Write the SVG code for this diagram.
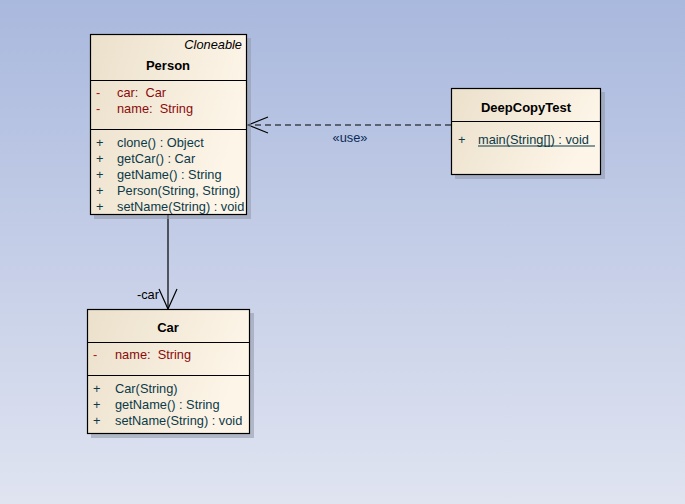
<svg xmlns="http://www.w3.org/2000/svg" width="685" height="504" viewBox="0 0 685 504">
<defs>
<linearGradient id="bg" x1="0" y1="0" x2="0" y2="1">
<stop offset="0" stop-color="#a9b8dd"/>
<stop offset="1" stop-color="#e0e4f1"/>
</linearGradient>
<linearGradient id="box" x1="0" y1="0" x2="1" y2="0.3">
<stop offset="0" stop-color="#ebe0cb"/>
<stop offset="1" stop-color="#fdf5e8"/>
</linearGradient>
<marker id="open" viewBox="0 0 22 20" refX="21" refY="10" markerWidth="22" markerHeight="20" markerUnits="userSpaceOnUse" orient="auto">
<path d="M1,1 L21,10 L1,19" fill="none" stroke="#000" stroke-width="1.2"/>
</marker>
<marker id="open2" viewBox="0 0 22 20" refX="21" refY="10" markerWidth="22" markerHeight="20" markerUnits="userSpaceOnUse" orient="auto">
<path d="M1,2 L21,10 L1,18" fill="none" stroke="#000" stroke-width="1.2"/>
</marker>
</defs>
<style>
text{font-family:"Liberation Sans",Arial,sans-serif;font-size:12.8px;white-space:pre}
.title{font-weight:bold;text-anchor:middle;font-size:13px}
.attr{fill:#8b0a0a}
.vis{fill:#b01818}
.meth{fill:#0b3a48}
.shadow{fill:#8f97a8;opacity:0.55}
.frame{fill:url(#box);stroke:#000;stroke-width:1.2}
.div{stroke:#000;stroke-width:1}
</style>
<rect width="685" height="504" fill="url(#bg)"/>

<g id="connectors">
<line x1="168" y1="215" x2="168" y2="309" stroke="#000" stroke-width="1.2" marker-end="url(#open)"/>
<text x="159" y="299" fill="#000" text-anchor="end" font-size="12.5">-car</text>
<line x1="451" y1="125" x2="248" y2="125" stroke="#000" stroke-width="1.2" stroke-dasharray="6,4" marker-end="url(#open2)"/>
<text x="350" y="142" text-anchor="middle" fill="#0b2a58" font-size="12">«use»</text>
</g>

<g id="Person">
<rect class="shadow" x="94" y="38" width="157" height="181"/>
<rect class="frame" x="90.5" y="34.5" width="156" height="180"/>
<text x="242" y="49" text-anchor="end" font-style="italic">Cloneable</text>
<text class="title" x="168" y="70">Person</text>
<line class="div" x1="90.5" y1="80.5" x2="246.5" y2="80.5"/>
<text class="vis" x="96" y="97">-</text><text class="attr" x="117" y="97" xml:space="preserve">car:  Car</text>
<text class="vis" x="96" y="113">-</text><text class="attr" x="117" y="113" xml:space="preserve">name:  String</text>
<line class="div" x1="90.5" y1="129.5" x2="246.5" y2="129.5"/>
<text class="meth" x="96" y="147">+</text><text class="meth" x="117" y="147">clone() : Object</text>
<text class="meth" x="96" y="163">+</text><text class="meth" x="117" y="163">getCar() : Car</text>
<text class="meth" x="96" y="179">+</text><text class="meth" x="117" y="179">getName() : String</text>
<text class="meth" x="96" y="195">+</text><text class="meth" x="117" y="195">Person(String, String)</text>
<text class="meth" x="96" y="211">+</text><text class="meth" x="117" y="211">setName(String) : void</text>
</g>

<g id="DeepCopyTest">
<rect class="shadow" x="455" y="92" width="150" height="87"/>
<rect class="frame" x="451.5" y="88.5" width="149" height="86"/>
<text class="title" x="526" y="112">DeepCopyTest</text>
<line class="div" x1="451.5" y1="121.5" x2="600.5" y2="121.5"/>
<text class="meth" x="458" y="144">+</text><text class="meth" x="478" y="144">main(String[]) : void</text>
<line x1="478" y1="146" x2="595" y2="146" stroke="#0b3a48" stroke-width="1"/>
</g>

<g id="Car">
<rect class="shadow" x="91" y="313" width="163" height="125"/>
<rect class="frame" x="87.5" y="309.5" width="162" height="124"/>
<text class="title" x="168" y="332">Car</text>
<line class="div" x1="87.5" y1="342.5" x2="249.5" y2="342.5"/>
<text class="vis" x="93" y="359">-</text><text class="attr" x="115" y="359" xml:space="preserve">name:  String</text>
<line class="div" x1="87.5" y1="375.5" x2="249.5" y2="375.5"/>
<text class="meth" x="93" y="393">+</text><text class="meth" x="115" y="393">Car(String)</text>
<text class="meth" x="93" y="409">+</text><text class="meth" x="115" y="409">getName() : String</text>
<text class="meth" x="93" y="425">+</text><text class="meth" x="115" y="425">setName(String) : void</text>
</g>
</svg>
